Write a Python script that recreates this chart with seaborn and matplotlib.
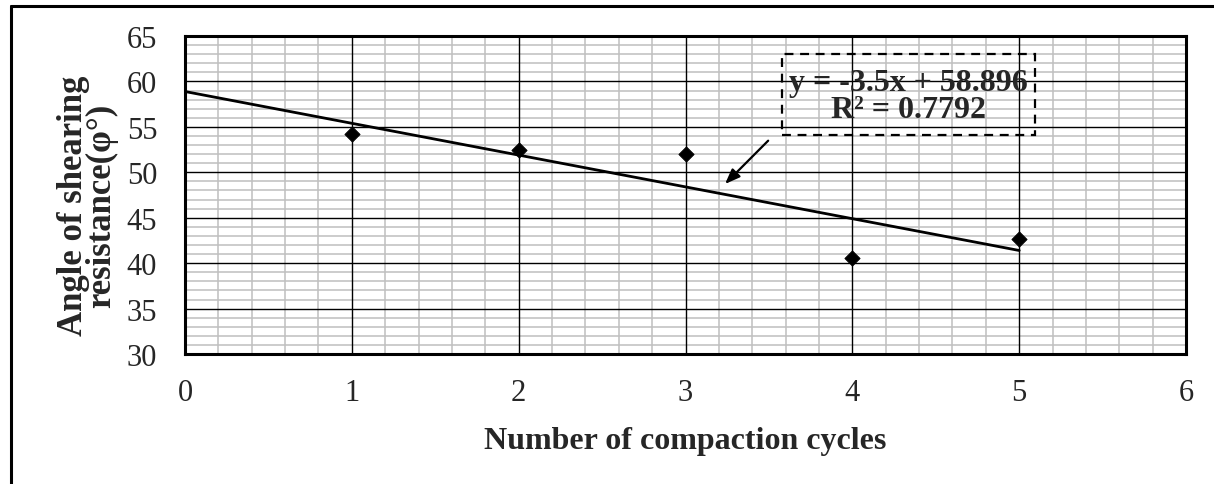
import matplotlib
matplotlib.use("Agg")
import matplotlib.pyplot as plt
from matplotlib.lines import Line2D
from matplotlib.patches import Rectangle
from matplotlib.ticker import MultipleLocator
import pandas as pd
import seaborn as sns

# data
cycles = [1, 2, 3, 4, 5]
phi = [54.2, 52.5, 52.0, 40.6, 42.7]

# linear trend as printed on the chart
slope = -3.5
intercept = 58.896
r_squared = 0.7792
trend_x = [0, 5]

x_ticks = [0, 1, 2, 3, 4, 5, 6]
y_ticks = [30, 35, 40, 45, 50, 55, 60, 65]

sns.set_style("white")
plt.rcParams["font.family"] = ["Liberation Serif", "DejaVu Sans"]

df = pd.DataFrame({"cycles": cycles, "phi": phi})
trend = pd.DataFrame({"x": trend_x, "y": [slope * v + intercept for v in trend_x]})

fig = plt.figure(figsize=(12.14, 4.85), dpi=100)
ax = fig.add_axes([0.1524, 0.268, 0.8246, 0.6556])

# grey minor grid, black major lines drawn on top of it
ax.xaxis.set_minor_locator(MultipleLocator(0.2))
ax.yaxis.set_minor_locator(MultipleLocator(1))
ax.grid(which="minor", color="#bfbfbf", linewidth=1.1)
ax.set_axisbelow(True)
for xv in x_ticks[1:-1]:
    ax.axvline(xv, color="black", linewidth=1.0, zorder=1.5)
for yv in y_ticks[1:-1]:
    ax.axhline(yv, color="black", linewidth=1.0, zorder=1.5)

sns.lineplot(data=trend, x="x", y="y", color="black", linewidth=2.0, ax=ax, zorder=3)
sns.scatterplot(data=df, x="cycles", y="phi", marker="D", s=60, color="black",
                edgecolor="black", ax=ax, zorder=4)

ax.set_xlim(0, 6)
ax.set_ylim(30, 65)
ax.set_xticks(x_ticks)
ax.set_yticks(y_ticks)
ax.tick_params(which="both", length=0, labelsize=22)
ax.tick_params(axis="x", pad=17)
ax.tick_params(axis="y", pad=20)

for s in ax.spines.values():
    s.set_visible(True)
    s.set_color("black")
    s.set_linewidth(2.2)

ax.set_xlabel("Number of compaction cycles", fontsize=23, fontweight="bold")
ax.xaxis.set_label_coords(0.5, -0.225)
ax.set_ylabel("Angle of shearing\nresistance(φ°)", fontsize=25, fontweight="bold",
              linespacing=0.8)
ax.yaxis.set_label_coords(-0.067, 0.47)

# equation box with arrow
ax.add_patch(Rectangle((3.579, 54.1), 5.096 - 3.579, 63.0 - 54.1, fill=False,
                       linestyle=(0, (4, 3)), linewidth=1.6, edgecolor="black", zorder=5))
ax.text(4.334, 58.4, f"y = {slope}x + {intercept}\nR² = {r_squared}", ha="center",
        va="center", fontsize=23, fontweight="bold", linespacing=0.95, zorder=6)
ax.annotate("", xy=(3.225, 48.5), xytext=(3.507, 53.7),
            arrowprops=dict(arrowstyle="-|>,head_length=0.9,head_width=0.35",
                            color="black", linewidth=1.6), zorder=6)

# outer frame (top and left edges visible)
fig.add_artist(Line2D([0.009, 0.009], [0.0, 0.9856], color="black", linewidth=2.2))
fig.add_artist(Line2D([0.009, 1.0], [0.9856, 0.9856], color="black", linewidth=2.2))

fig.savefig("out.png", dpi=100)
